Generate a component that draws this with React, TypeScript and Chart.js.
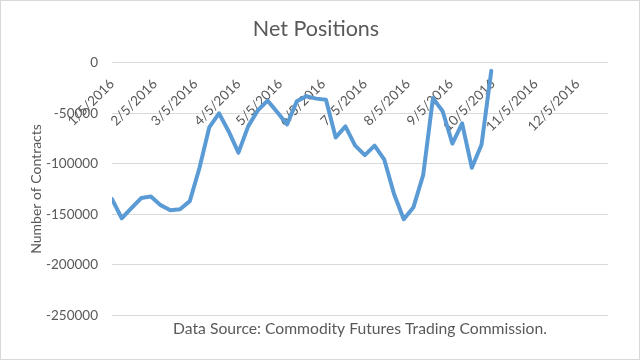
import React, { useEffect, useRef } from "react";
import { Chart, registerables } from "chart.js";

Chart.register(...registerables);

const chartTitle = "Net Positions";
const yAxisTitle = "Number of Contracts";
const sourceNote = "Data Source: Commodity Futures Trading Commission.";

const reportDates = [
  "1/5/2016", "1/12/2016", "1/19/2016", "1/26/2016",
  "2/2/2016", "2/9/2016", "2/16/2016", "2/23/2016",
  "3/1/2016", "3/8/2016", "3/15/2016", "3/22/2016", "3/29/2016",
  "4/5/2016", "4/12/2016", "4/19/2016", "4/26/2016",
  "5/3/2016", "5/10/2016", "5/17/2016", "5/24/2016", "5/31/2016",
  "6/7/2016", "6/14/2016", "6/21/2016", "6/28/2016",
  "7/5/2016", "7/12/2016", "7/19/2016", "7/26/2016",
  "8/2/2016", "8/9/2016", "8/16/2016", "8/23/2016", "8/30/2016",
  "9/6/2016", "9/13/2016", "9/20/2016", "9/27/2016",
  "10/4/2016",
];

const netPositions = [
  -135000, -154000, -144000, -134000, -132500, -141000, -146000, -145000,
  -137000, -104000, -64000, -50000, -68000, -89000, -63000, -47000,
  -37500, -49000, -61000, -38000, -33000, -35500, -36500, -74000,
  -63000, -82000, -91500, -82000, -96000, -130000, -155000, -143000,
  -111000, -35000, -48000, -80000, -60000, -104000, -81000, -8000,
];

const monthTickLabels = [
  "1/5/2016", "2/5/2016", "3/5/2016", "4/5/2016", "5/5/2016", "6/5/2016",
  "7/5/2016", "8/5/2016", "9/5/2016", "10/5/2016", "11/5/2016", "12/5/2016",
];

const xAxisStart = "1/5/2016";
const xAxisEnd = "12/27/2016";

const yMin = -250000;
const yMax = 0;
const yStep = 50000;

function dayOf(s: string): number {
  const [m, d, y] = s.split("/").map(Number);
  const [m0, d0, y0] = xAxisStart.split("/").map(Number);
  return (Date.UTC(y, m - 1, d) - Date.UTC(y0, m0 - 1, d0)) / 86400000;
}

const TEXT = "#595959";
const GRID = "#D9D9D9";
const LINE = "#5B9BD5";
const FONT = "Lato, 'Open Sans', 'DejaVu Sans', sans-serif";

export default function App() {
  const ref = useRef<HTMLCanvasElement | null>(null);

  useEffect(() => {
    if (!ref.current) return;
    const tickDays = monthTickLabels.map(dayOf);
    const chart = new Chart(ref.current, {
      type: "line",
      data: {
        datasets: [
          {
            label: "Net Positions",
            data: reportDates.map((d, i) => ({ x: dayOf(d), y: netPositions[i] })),
            borderColor: LINE,
            backgroundColor: LINE,
            borderWidth: 4,
            pointRadius: 0,
            tension: 0,
            borderJoinStyle: "round",
            borderCapStyle: "round",
          },
        ],
      },
      options: {
        responsive: false,
        animation: false,
        devicePixelRatio: 1,
        layout: { padding: { left: 24, right: 32, top: 0, bottom: 22 } },
        plugins: {
          legend: { display: false },
          tooltip: { enabled: false },
          title: {
            display: true,
            text: chartTitle,
            color: TEXT,
            font: { family: FONT, size: 21.5, weight: "normal" },
            padding: { top: 16, bottom: 21 },
          },
          subtitle: {
            display: true,
            text: sourceNote,
            position: "bottom",
            fullSize: false,
            color: TEXT,
            font: { family: FONT, size: 15.7, weight: "normal" },
            padding: { top: 4, bottom: 0 },
          },
        },
        scales: {
          x: {
            type: "linear",
            position: { y: 0 } as any,
            min: dayOf(xAxisStart),
            max: dayOf(xAxisEnd),
            grid: { display: false, drawTicks: false },
            border: { display: false },
            afterBuildTicks: (scale: any) => {
              scale.ticks = tickDays.map((v) => ({ value: v }));
            },
            ticks: {
              autoSkip: false,
              minRotation: 45,
              maxRotation: 45,
              padding: 13,
              color: TEXT,
              font: { family: FONT, size: 13.5 },
              callback: (_v: any, i: number) => monthTickLabels[i],
            },
          },
          y: {
            min: yMin,
            max: yMax,
            afterFit: (scale: any) => {
              scale.width = 88;
            },
            grid: { color: GRID, lineWidth: 1, drawTicks: false },
            border: { display: false },
            ticks: {
              stepSize: yStep,
              padding: 14,
              color: TEXT,
              font: { family: FONT, size: 13.5 },
              callback: (v: any) => String(v),
            },
            title: {
              display: true,
              text: yAxisTitle,
              color: TEXT,
              font: { family: FONT, size: 14, weight: "normal" },
              padding: { top: 4, bottom: 3 },
            },
          },
        },
      },
    });
    return () => chart.destroy();
  }, []);

  return (
    <div
      style={{
        position: "fixed",
        left: 0,
        top: 0,
        width: 640,
        height: 360,
        background: "#fff",
      }}
    >
      <canvas ref={ref} width={640} height={360} style={{ display: "block" }} />
      <div
        style={{
          position: "absolute",
          left: 0,
          top: 0,
          width: 640,
          height: 360,
          boxSizing: "border-box",
          border: "1px solid #D9D9D9",
          pointerEvents: "none",
        }}
      />
    </div>
  );
}
